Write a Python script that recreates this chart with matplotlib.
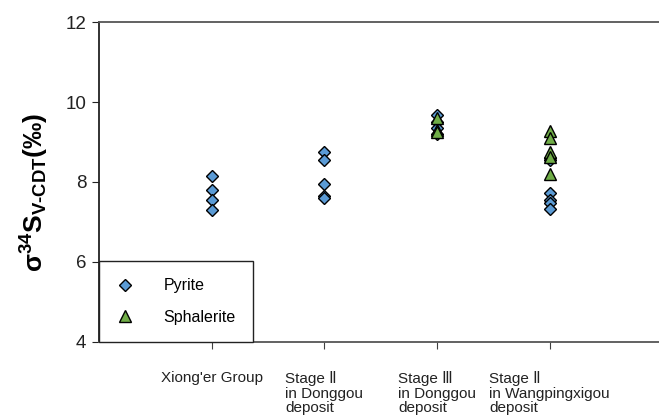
import matplotlib
matplotlib.use("Agg")
import matplotlib.pyplot as plt

plt.rcParams['font.family'] = ['Liberation Sans', 'DejaVu Sans']
plt.rcParams['mathtext.fontset'] = 'custom'
plt.rcParams['mathtext.rm'] = 'Liberation Sans:bold'
plt.rcParams['mathtext.it'] = 'Liberation Sans:bold'
plt.rcParams['mathtext.bf'] = 'Liberation Sans:bold'
plt.rcParams['mathtext.default'] = 'rm'

# Groups along the x axis
categories = ["Xiong'er Group",
              "Stage Ⅱ\nin Donggou\ndeposit",
              "Stage Ⅲ\nin Donggou\ndeposit",
              "Stage Ⅱ\nin Wangpingxigou\ndeposit"]

# δ34S values (‰) per group
pyrite = [
    [8.15, 7.8, 7.55, 7.3],
    [8.75, 8.55, 7.95, 7.65, 7.6],
    [9.68, 9.5, 9.35, 9.2],
    [8.6, 8.55, 7.72, 7.55, 7.47, 7.33],
]
sphalerite = [
    [],
    [],
    [9.6, 9.3, 9.25],
    [9.28, 9.1, 8.75, 8.62, 8.2],
]

yticks = [4, 6, 8, 10, 12]

fig = plt.figure(figsize=(6.59, 4.16), dpi=100)
ax = fig.add_axes([0.150, 0.178, 0.855, 0.769])

blue = '#5b9bd5'
green = '#70ad47'

for i, vals in enumerate(pyrite):
    ax.plot([i + 1] * len(vals), vals, linestyle='none', marker='D',
            markersize=6.5, markerfacecolor=blue, markeredgecolor='black',
            markeredgewidth=1.0, label='Pyrite' if i == 0 else None, zorder=3)
for i, vals in enumerate(sphalerite):
    if not vals:
        continue
    ax.plot([i + 1] * len(vals), vals, linestyle='none', marker='^',
            markersize=8.5, markerfacecolor=green, markeredgecolor='black',
            markeredgewidth=1.0, label='Sphalerite' if i == 2 else None, zorder=4)

ax.set_xlim(0, 5)
ax.set_ylim(4, 12)
ax.set_yticks(yticks)
ax.set_yticklabels([str(t) for t in yticks], fontsize=13.5, color='#222222')
ax.set_xticks(range(1, len(categories) + 1))
ax.set_xticklabels(categories, fontsize=11, multialignment='left',
                   va='top', color='#222222', linespacing=1.05)
ax.tick_params(axis='x', direction='out', length=5, pad=16, color='#404040')
ax.tick_params(axis='y', direction='out', length=5, pad=4, color='#222222')

for side in ('left', 'bottom', 'top'):
    ax.spines[side].set_linewidth(1.3)
ax.spines['left'].set_color('#222222')
ax.spines['bottom'].set_color('#555555')
ax.spines['top'].set_color('#555555')
ax.spines['right'].set_visible(False)

ax.set_ylabel(r'$\sigma^{34}S_{V\text{-}CDT}(‰)$', fontsize=19)
ax.yaxis.set_label_coords(-0.085, 0.466)

leg = ax.legend(loc='lower left', bbox_to_anchor=(0, 0), borderaxespad=0,
                fontsize=11.5, frameon=True, fancybox=False, edgecolor='#222222',
                labelspacing=1.06, borderpad=1.06, handlelength=1.1,
                handletextpad=1.9)
leg.get_frame().set_linewidth(1.0)
leg.get_frame().set_alpha(1)

fig.savefig('out.png', dpi=100)
